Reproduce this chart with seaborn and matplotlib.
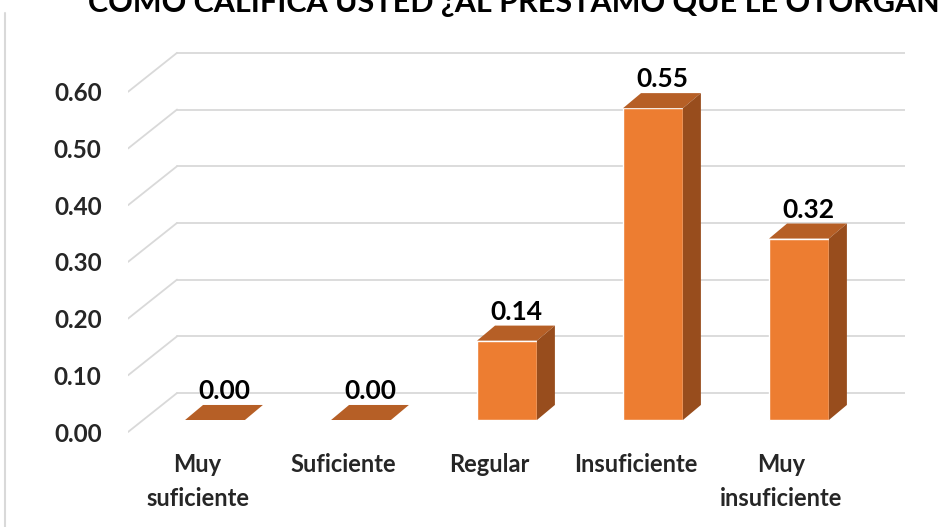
import matplotlib
matplotlib.use("Agg")
import matplotlib.pyplot as plt
from matplotlib.patches import Polygon
from matplotlib.lines import Line2D
import pandas as pd
import seaborn as sns

# ---- Datos ----
categorias = ["Muy\nsuficiente", "Suficiente", "Regular", "Insuficiente", "Muy\ninsuficiente"]
valores = [0.00, 0.00, 0.14, 0.55, 0.32]
ticks_y = [0.0, 0.1, 0.2, 0.3, 0.4, 0.5, 0.6]
titulo = "COMO CALIFICA USTED ¿AL PRÉSTAMO QUE LE OTORGAN LAS ENTIDADES"

# ---- Estilo ----
COLOR_FRENTE = "#ED7D31"
COLOR_TECHO = "#B65F26"
COLOR_LADO = "#984D1D"
COLOR_GRID = "#D9D9D9"
ANCHO = 0.41           # ancho de la cara frontal (unidades de categoria)
PROF_X = 0.123         # profundidad de la barra en x
PROF_Y = 0.0265        # profundidad de la barra en y
PARED_X = 0.336        # desplazamiento de la pared del fondo en x
PARED_Y = 0.0476       # desplazamiento de la pared del fondo en y
FRENTE_Y = -0.0212     # borde frontal del piso

sns.set_theme(style="white")
plt.rcParams['font.family'] = ['Lato', 'DejaVu Sans']

df = pd.DataFrame({"categoria": categorias, "valor": valores})

fig = plt.figure(figsize=(9.48, 5.27), dpi=100)
ax = fig.add_axes([128 / 948, 1 - 440 / 527, (905 - 128) / 948, 400 / 527])
ax.set_xlim(-0.596, 4.726)
ax.set_ylim(-20 / 567, 380 / 567)

# ---- Rejilla en perspectiva ----
x0, x1 = ax.get_xlim()
for t in ticks_y:
    ax.plot([x0 + PARED_X, x1], [t + PARED_Y, t + PARED_Y], color=COLOR_GRID, lw=1.3, zorder=0)
    ax.plot([x0, x0 + PARED_X], [t + FRENTE_Y, t + PARED_Y], color=COLOR_GRID, lw=1.3, zorder=0)

# ---- Barras (cara frontal) ----
sns.barplot(data=df, x="categoria", y="valor", color=COLOR_FRENTE, saturation=1,
            width=ANCHO, ax=ax, zorder=2)
ax.set_xlim(x0, x1)

# ---- Caras superior y lateral ----
for i, v in enumerate(valores):
    izq, der = i - ANCHO / 2, i + ANCHO / 2
    techo = [(izq, v), (der, v), (der + PROF_X, v + PROF_Y), (izq + PROF_X, v + PROF_Y)]
    ax.add_patch(Polygon(techo, closed=True, facecolor=COLOR_TECHO, edgecolor="none", zorder=3))
    if v > 0:
        lado = [(der, 0), (der + PROF_X, PROF_Y), (der + PROF_X, v + PROF_Y), (der, v)]
        ax.add_patch(Polygon(lado, closed=True, facecolor=COLOR_LADO, edgecolor="none", zorder=3))
    ax.text(i + PROF_X / 2, v + PROF_Y + 0.003, f"{v:.2f}", ha="center", va="bottom",
            fontsize=19, fontweight="bold", color="black", zorder=4)

# ---- Ejes ----
ax.set_yticks([t + FRENTE_Y for t in ticks_y])
ax.set_yticklabels([f"{t:.2f}" for t in ticks_y], fontsize=17.5, fontweight="bold")
ax.set_xticks([i - 0.12 for i in range(len(categorias))])
ax.set_xticklabels(categorias, fontsize=17, fontweight="bold", linespacing=1.6)
ax.tick_params(axis="y", length=0, pad=19)
ax.tick_params(axis="x", length=0, pad=9)
ax.set_xlabel("")
ax.set_ylabel("")
for s in ax.spines.values():
    s.set_visible(False)

# ---- Titulo cortado y borde ----
fig.text(88 / 948, 1 - 12 / 527, titulo, ha="left", va="baseline",
         fontsize=22, fontweight="bold", color="black")
fig.add_artist(Line2D([5 / 948, 5 / 948], [0, 1 - 13 / 527], color=COLOR_GRID, lw=1.5,
                      transform=fig.transFigure))

fig.savefig("out.png", dpi=100)
